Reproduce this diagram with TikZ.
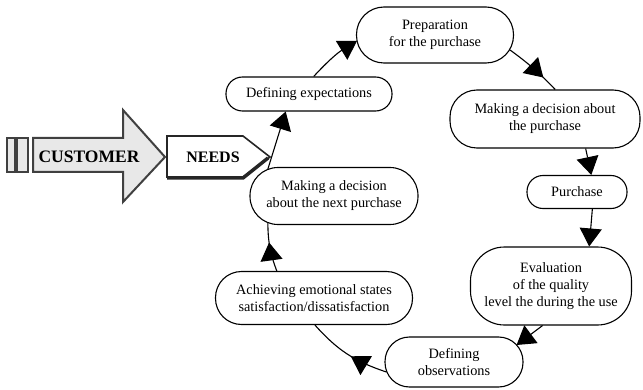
\documentclass[tikz,border=0pt]{standalone}
\usepackage{fontspec}
\setmainfont{Liberation Serif}
\usetikzlibrary{calc,arrows.meta,decorations.markings}

\begin{document}
\begin{tikzpicture}[x=1pt,y=1pt,
  stage/.style={rectangle, draw, line width=1.1pt, align=center,
    inner sep=0pt, rounded corners=#1, font=\fontsize{14.3}{17}\selectfont},
  flow/.style={line width=1.1pt, -{Triangle[length=18pt,width=22pt]}},
  midflow/.style={line width=1.1pt, postaction={decorate},
    decoration={markings, mark=at position #1 with {\arrow{Triangle[length=18pt,width=22pt]}}}},
  shell/.style={draw=black!75, fill=black!9, line width=2pt, line join=miter},
  tag/.style={draw=black!85, fill=white, line width=1.6pt, line join=miter}
]
\useasboundingbox (0,0) rectangle (643,389);

% customer arrow with its two tail bars
\draw[shell] (7,217) rectangle (15,251);
\draw[shell] (17,217) rectangle (28,251);
\draw[shell] (33,217) -- (123,217) -- (123,187) -- (165,232) -- (123,279)
  -- (123,251) -- (33,251) -- cycle;
\node[font=\bfseries\fontsize{17.5}{20}\selectfont] (customer) at (89,232) {CUSTOMER};

% needs tag with a shadowed lower edge
\draw[tag] (167,212) -- (167,253) -- (243,253) -- (270,232) -- (243,212) -- cycle;
\draw[draw=black!85, line width=3.5pt, line join=miter] (167,211) -- (243,211) -- (268,231);
\node[font=\bfseries\fontsize{16}{18}\selectfont] (needs) at (213,232) {NEEDS};

% stages of the cycle
\node[stage=27.5pt, minimum width=157pt, minimum height=56pt] (prep) at (435,354) {Preparation\\for the purchase};
\node[stage=16.5pt, minimum width=166pt, minimum height=34pt] (defexp) at (309,295) {Defining expectations};
\node[stage=27pt, minimum width=190pt, minimum height=58pt] (makedec) at (545,270) {Making a decision about\\the purchase};
\node[stage=16pt, minimum width=100pt, minimum height=33pt] (purchase) at (577,197) {Purchase};
\node[stage=34pt, minimum width=161pt, minimum height=78pt] (eval) at (551,103) {Evaluation\\of the quality\\level the during the use};
\node[stage=24.5pt, minimum width=138pt, minimum height=50pt] (defobs) at (454,27) {Defining\\observations};
\node[stage=26pt, minimum width=197pt, minimum height=53pt] (achieve) at (314,91) {Achieving emotional states\\satisfaction/dissatisfaction};
\node[stage=28pt, minimum width=168pt, minimum height=57pt] (nextdec) at (334,193) {Making a decision\\about the next purchase};

% connectors around the cycle
\draw[flow] (defexp.75) to[bend left=8] ($(prep.west)+(1,-6)$);
\draw[midflow=0.72] ($(prep.east)+(-4,-15)$) to[bend left=5] (makedec.71);
\draw[flow] (makedec.-36) -- (purchase.50);
\draw[flow] (purchase.-48) -- (eval.46);
\draw[flow] (eval.-102) -- ($(defobs.east)+(-7,17)$);
\draw[midflow=0.45] ($(defobs.west)+(2,-10)$) to[bend left=15] (achieve.-88);
\draw[midflow=0.6] (achieve.144) to[bend left=10] ($(nextdec.south west)+(18.4,2.2)$);
\draw[flow] ($(nextdec.north west)+(18.4,-2.2)$) -- (defexp.-143);
\end{tikzpicture}
\end{document}
